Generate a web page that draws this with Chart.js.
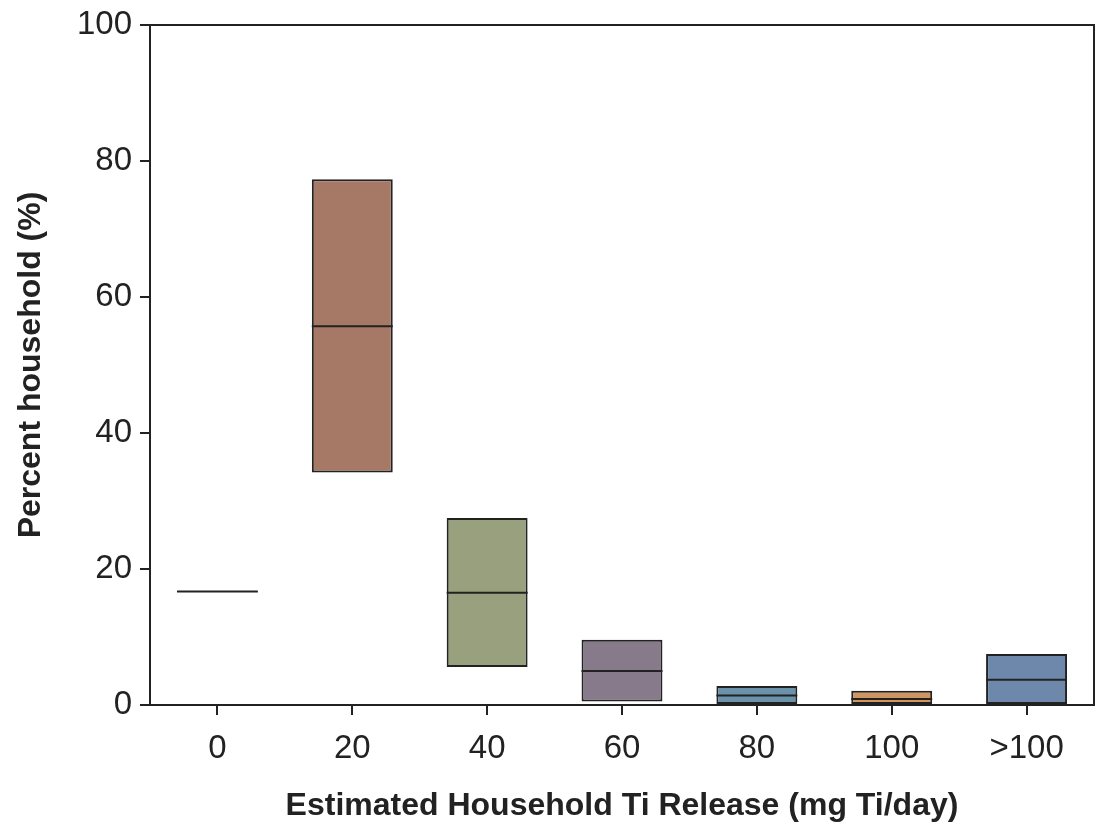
<!DOCTYPE html>
<html>
<head>
<meta charset="utf-8">
<script src="https://cdn.jsdelivr.net/npm/chart.js@4.4.1/dist/chart.umd.min.js"></script>
<style>
  html, body { margin: 0; padding: 0; background: #fff; }
  #wrap { width: 1097px; height: 825px; }
</style>
</head>
<body>
<div id="wrap"><canvas id="tiChart" width="1097" height="825"></canvas></div>
<script>
const categories = ["0", "20", "40", "60", "80", "100", ">100"];
const lowVals = [null, 34.2, 5.6, 0.5, 0, 0, 0];
const highVals = [null, 77.3, 27.5, 9.6, 2.8, 2.1, 7.5];
const medianVals = [16.7, 55.7, 16.5, 5.0, 1.4, 0.9, 3.7];
const boxColors = ["#ffffff", "#a67866", "#98a07e", "#877a8b", "#6a93ab", "#cf9660", "#6e88ab"];
const yTicks = [0, 20, 40, 60, 80, 100];

const BOX_PCT = 0.6;
const FONT = "Liberation Sans, Arial, sans-serif";
const ranges = categories.map((c, i) => lowVals[i] === null ? null : [lowVals[i], highVals[i]]);

const medianPlugin = {
  id: "medianLines",
  afterDatasetsDraw(chart) {
    const { ctx, chartArea, scales } = chart;
    const xs = scales.x, ys = scales.y;
    const half = (xs.width / categories.length) * BOX_PCT / 2;
    ctx.save();
    ctx.strokeStyle = "#222";
    ctx.lineWidth = 2;
    medianVals.forEach((m, i) => {
      const cx = xs.getPixelForValue(i);
      const y = ys.getPixelForValue(m);
      ctx.beginPath();
      ctx.moveTo(cx - half, y);
      ctx.lineTo(cx + half, y);
      ctx.stroke();
    });
    // frame: top and right
    ctx.beginPath();
    ctx.moveTo(chartArea.left, chartArea.top);
    ctx.lineTo(chartArea.right, chartArea.top);
    ctx.lineTo(chartArea.right, chartArea.bottom);
    ctx.stroke();
    ctx.restore();
  }
};

const ctx = document.getElementById("tiChart");
const chart = new Chart(ctx, {
  type: "bar",
  data: {
    labels: categories,
    datasets: [
      {
        data: ranges,
        backgroundColor: boxColors,
        borderColor: "#222",
        borderWidth: 2,
        borderSkipped: false,
        barPercentage: BOX_PCT,
        categoryPercentage: 1.0,
      },
    ],
  },
  plugins: [medianPlugin],
  options: {
    responsive: false,
    animation: false,
    layout: { padding: { left: 0, right: 3, top: 25, bottom: 0 } },
    plugins: {
      legend: { display: false },
      tooltip: { enabled: false },
    },
    scales: {
      x: {
        offset: true,
        grid: { display: true, drawOnChartArea: false, drawTicks: true, tickLength: 10, offset: false, color: "#222", lineWidth: 2 },
        border: { display: true, color: "#222", width: 2 },
        ticks: { color: "#222", font: { family: FONT, size: 33 }, padding: 14 },
        title: {
          display: true,
          text: "Estimated Household Ti Release (mg Ti/day)",
          color: "#222",
          font: { family: FONT, size: 32, weight: "bold" },
          padding: { top: 22, bottom: 0 },
        },
        afterFit(scale) { scale.height = 120; },
      },
      y: {
        min: 0,
        max: 100,
        afterBuildTicks(scale) { scale.ticks = yTicks.map(v => ({ value: v })); },
        grid: { display: true, drawOnChartArea: false, drawTicks: true, tickLength: 10, color: "#222", lineWidth: 2 },
        border: { display: true, color: "#222", width: 2 },
        ticks: { color: "#222", font: { family: FONT, size: 33, lineHeight: 1 }, padding: 8 },
        title: {
          display: true,
          text: "Percent household (%)",
          color: "#222",
          font: { family: FONT, size: 32, weight: "bold" },
          padding: { top: 12, bottom: 10 },
        },
        afterFit(scale) { scale.width = 150; },
      },
    },
  },
});
</script>
</body>
</html>
